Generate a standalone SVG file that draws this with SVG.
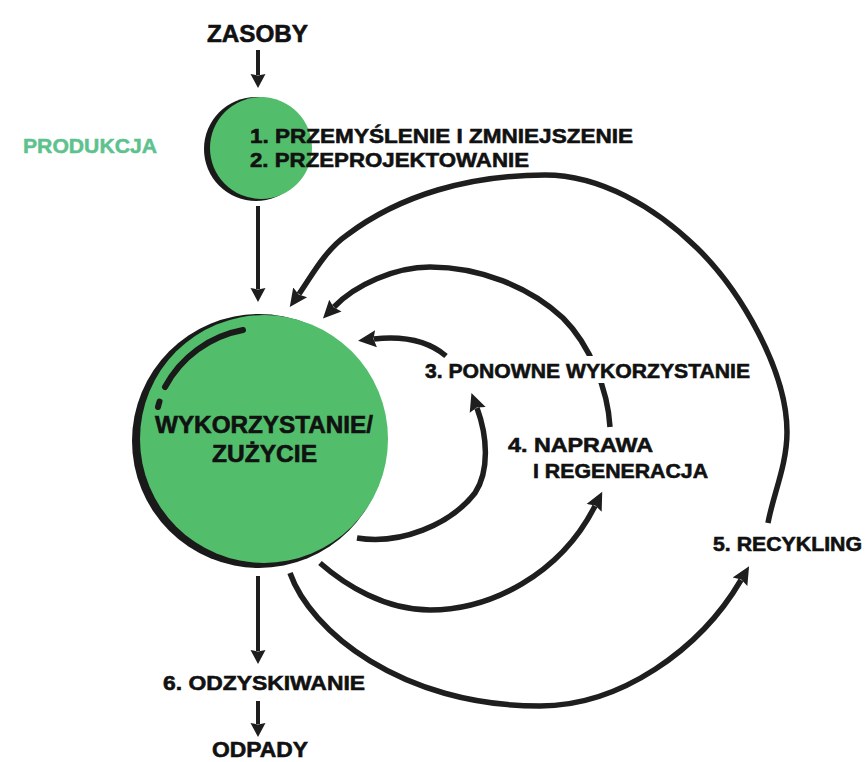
<svg xmlns="http://www.w3.org/2000/svg" width="867" height="762" viewBox="0 0 867 762">
  <style>
    .t { font-family: "Liberation Sans", Arial, sans-serif; font-weight: 700; fill: #111111; stroke: #111111; stroke-width: 0.6; }
    .g { font-family: "Liberation Sans", Arial, sans-serif; font-weight: 700; fill: #5dc28e; stroke: #5dc28e; stroke-width: 0.5; }
    .arc { fill: none; stroke: #1e1e1e; stroke-width: 5.5; }
    .line { fill: none; stroke: #1e1e1e; stroke-width: 4; }
    .green { fill: #52be6b; }
    .shadow { fill: #1a1a1a; }
  </style>
  <defs>
    <marker id="headC" markerUnits="userSpaceOnUse" viewBox="0 -10 20 20" refX="2" refY="0" markerWidth="20" markerHeight="20" orient="auto">
      <path d="M0,-8.5 L18,0 L0,8.5 L2.5,0 z" fill="#1e1e1e"/>
    </marker>
    <marker id="headS" markerUnits="userSpaceOnUse" viewBox="0 -9 16 18" refX="1" refY="0" markerWidth="16" markerHeight="18" orient="auto">
      <path d="M0,-7.5 L14,0 L0,7.5 L1.5,0 z" fill="#1e1e1e"/>
    </marker>
  </defs>
  <rect x="0" y="0" width="867" height="762" fill="#ffffff"/>

  <g id="connectors">
    <path class="line" d="M258,50 L258,75" marker-end="url(#headS)"/>
    <path class="line" d="M258,206 L258,289" marker-end="url(#headS)"/>
    <path class="line" d="M258,576 L258,651" marker-end="url(#headS)"/>
    <path class="line" d="M258,701 L258,724" marker-end="url(#headS)"/>
    <path class="arc" d="M768,523 C773,495 787,465 787,432 C787,370 740,290 697,248 C655,207 600,175 545,175 C470,175 400,195 347,235 C325,250 311,277 299,294" marker-end="url(#headC)"/>
    <path class="arc" d="M610,427 C608,390 590,345 563,318 C530,287 480,267 430,267 C395,267 355,285 334,307" marker-end="url(#headC)"/>
    <path class="arc" d="M446,356 Q420,334 374,339" marker-end="url(#headC)"/>
    <path class="arc" d="M357,538 C400,545 450,525 475,493 C490,470 487,435 477,408" marker-end="url(#headC)"/>
    <path class="arc" d="M320,563 C345,585 385,610 430,610 C490,610 560,575 595,506" marker-end="url(#headC)"/>
    <path class="arc" d="M290,573 C310,630 400,706 540,706 C620,706 700,650 741,580" marker-end="url(#headC)"/>
  </g>

  <g id="zasoby">
    <text class="t" x="207" y="42" font-size="24" textLength="101" lengthAdjust="spacingAndGlyphs">ZASOBY</text>
  </g>

  <g id="produkcja-label">
    <text class="g" x="23" y="153" font-size="21" textLength="134" lengthAdjust="spacingAndGlyphs">PRODUKCJA</text>
  </g>

  <g id="produkcja">
    <circle class="shadow" cx="256" cy="149" r="52"/>
    <circle class="green" cx="261" cy="148" r="51"/>
    <text class="t" x="250" y="143" font-size="21" textLength="383" lengthAdjust="spacingAndGlyphs">1. PRZEMYŚLENIE I ZMNIEJSZENIE</text>
    <text class="t" x="250" y="167" font-size="21" textLength="279" lengthAdjust="spacingAndGlyphs">2. PRZEPROJEKTOWANIE</text>
  </g>

  <g id="uzycie">
    <circle class="shadow" cx="259" cy="441" r="127"/>
    <circle class="green" cx="264" cy="439" r="124"/>
    <path d="M243,330 A111,111 0 0 0 165,387" fill="none" stroke="#1a1a1a" stroke-width="6" stroke-linecap="round"/>
    <path d="M159.5,401.5 A111,111 0 0 0 158,407" fill="none" stroke="#1a1a1a" stroke-width="6" stroke-linecap="round"/>
    <text class="t" x="155" y="433" font-size="24" textLength="218" lengthAdjust="spacingAndGlyphs">WYKORZYSTANIE/</text>
    <text class="t" x="212" y="462" font-size="24" textLength="105" lengthAdjust="spacingAndGlyphs">ZUŻYCIE</text>
  </g>

  <g id="ponowne">
    <rect x="582" y="356" width="34" height="27" fill="#ffffff"/>
    <text class="t" x="425" y="378" font-size="21" textLength="325" lengthAdjust="spacingAndGlyphs">3. PONOWNE WYKORZYSTANIE</text>
  </g>

  <g id="naprawa">
    <text class="t" x="508" y="452" font-size="21" textLength="145" lengthAdjust="spacingAndGlyphs">4. NAPRAWA</text>
    <text class="t" x="533" y="478" font-size="21" textLength="175" lengthAdjust="spacingAndGlyphs">I REGENERACJA</text>
  </g>

  <g id="recykling">
    <text class="t" x="713" y="551" font-size="21" textLength="149" lengthAdjust="spacingAndGlyphs">5. RECYKLING</text>
  </g>

  <g id="odzyskiwanie">
    <text class="t" x="163" y="690" font-size="21" textLength="202" lengthAdjust="spacingAndGlyphs">6. ODZYSKIWANIE</text>
  </g>

  <g id="odpady">
    <text class="t" x="212" y="757" font-size="22" textLength="96" lengthAdjust="spacingAndGlyphs">ODPADY</text>
  </g>
</svg>
